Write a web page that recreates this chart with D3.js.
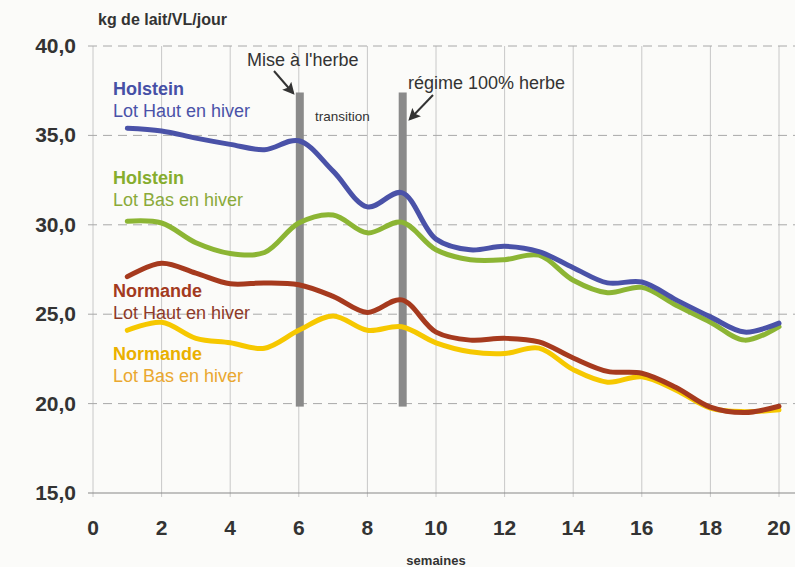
<!DOCTYPE html>
<html>
<head>
<meta charset="utf-8">
<script src="https://cdn.jsdelivr.net/npm/d3@7"></script>
<style>
    body { margin: 0; background: #fbfbf9; }
    svg { display: block; font-family: "Liberation Sans", Arial, sans-serif; }
</style>
</head>
<body>
<svg id="chart" width="795" height="567"></svg>
<script>
// data
var weeks = [1, 2, 3, 4, 5, 6, 7, 8, 9, 10, 11, 12, 13, 14, 15, 16, 17, 18, 19, 20];
var holstein_haut = [35.4, 35.25, 34.85, 34.5, 34.2, 34.7, 33.0, 31.0, 31.8, 29.2, 28.6, 28.8, 28.5, 27.6, 26.75, 26.8, 25.8, 24.85, 24.0, 24.5];
var holstein_bas  = [30.2, 30.1, 29.0, 28.4, 28.45, 30.1, 30.55, 29.55, 30.15, 28.6, 28.05, 28.05, 28.3, 26.9, 26.2, 26.5, 25.5, 24.55, 23.55, 24.3];
var normande_haut = [27.1, 27.85, 27.3, 26.7, 26.75, 26.65, 26.0, 25.1, 25.8, 24.0, 23.55, 23.65, 23.45, 22.55, 21.8, 21.7, 20.9, 19.8, 19.5, 19.85];
var normande_bas  = [24.1, 24.55, 23.65, 23.4, 23.1, 24.1, 24.9, 24.1, 24.3, 23.4, 22.9, 22.8, 23.1, 21.9, 21.2, 21.5, 20.75, 19.75, 19.55, 19.65];
var x_ticks = [0, 2, 4, 6, 8, 10, 12, 14, 16, 18, 20];
var y_ticks = [15, 20, 25, 30, 35, 40];
var series_names = ['Holstein', 'Holstein', 'Normande', 'Normande'];
var series_lots = ['Lot Haut en hiver', 'Lot Bas en hiver', 'Lot Haut en hiver', 'Lot Bas en hiver'];
var marker_weeks = [6, 9];

// styles
var line_colors = ['#4a52a8', '#8cb534', '#a63a1e', '#f6c800'];
var name_colors = ['#4650a6', '#86ad2e', '#a33a20', '#eab000'];
var lot_colors  = ['#4a52a8', '#8aaa3a', '#8e3a28', '#eaa830'];
// legend anchor (week, value) per series
var legend_pos = [[0.58, 37.25], [0.58, 32.3], [0.58, 25.95], [0.58, 22.45]];

var svg = d3.select('#chart');

// scales
var x = d3.scaleLinear().domain([0, 20]).range([93, 779]);
var y = d3.scaleLinear().domain([15, 40]).range([493, 46]);

// vertical grid
svg.append('g')
    .selectAll('line')
    .data(x_ticks)
    .enter().append('line')
    .attr('x1', function(d) { return x(d); })
    .attr('x2', function(d) { return x(d); })
    .attr('y1', y(40))
    .attr('y2', y(15) + 4)
    .attr('stroke', '#c8c8c8')
    .attr('stroke-width', 1);

// horizontal grid (dashed)
svg.append('g')
    .selectAll('line')
    .data(y_ticks.filter(function(d) { return d > 15; }))
    .enter().append('line')
    .attr('x1', x(0) - 5)
    .attr('x2', 795)
    .attr('y1', function(d) { return y(d); })
    .attr('y2', function(d) { return y(d); })
    .attr('stroke', '#a8a8a8')
    .attr('stroke-width', 1)
    .attr('stroke-dasharray', '9,6');

// x axis line
svg.append('line')
    .attr('x1', x(0) - 5)
    .attr('x2', 795)
    .attr('y1', y(15))
    .attr('y2', y(15))
    .attr('stroke', '#888')
    .attr('stroke-width', 1.2);

// y tick labels
svg.append('g')
    .selectAll('text')
    .data(y_ticks)
    .enter().append('text')
    .attr('x', 76)
    .attr('y', function(d) { return y(d) + 7; })
    .attr('text-anchor', 'end')
    .attr('font-size', 21)
    .attr('font-weight', 'bold')
    .attr('fill', '#333')
    .text(function(d) { return d3.format('.1f')(d).replace('.', ','); });

// x tick labels
svg.append('g')
    .selectAll('text')
    .data(x_ticks)
    .enter().append('text')
    .attr('x', function(d) { return x(d); })
    .attr('y', y(15) + 42)
    .attr('text-anchor', 'middle')
    .attr('font-size', 21)
    .attr('font-weight', 'bold')
    .attr('fill', '#333')
    .text(function(d) { return d; });

// axis titles
svg.append('text')
    .attr('x', 98)
    .attr('y', 25)
    .attr('font-size', 16)
    .attr('font-weight', 'bold')
    .attr('fill', '#333')
    .text('kg de lait/VL/jour');

svg.append('text')
    .attr('x', x(10))
    .attr('y', 565)
    .attr('text-anchor', 'middle')
    .attr('font-size', 13)
    .attr('font-weight', 'bold')
    .attr('fill', '#333')
    .text('semaines');

// marker bars
svg.append('g')
    .selectAll('rect')
    .data(marker_weeks)
    .enter().append('rect')
    .attr('x', function(d) { return x(d) - 3; })
    .attr('y', y(37.4))
    .attr('width', 8)
    .attr('height', y(20) - y(37.4) + 3)
    .attr('fill', '#8a8a8a');

// arrow head
svg.append('defs').append('marker')
    .attr('id', 'arrow')
    .attr('viewBox', '0 0 10 10')
    .attr('refX', 8)
    .attr('refY', 5)
    .attr('markerWidth', 6)
    .attr('markerHeight', 6)
    .attr('markerUnits', 'strokeWidth')
    .attr('orient', 'auto')
    .append('path')
    .attr('d', 'M0,0L10,5L0,10L2,5Z')
    .attr('fill', '#333');

// annotations
svg.append('text')
    .attr('x', 247)
    .attr('y', 66)
    .attr('font-size', 18)
    .attr('fill', '#333')
    .text("Mise à l'herbe");

svg.append('line')
    .attr('x1', 274).attr('y1', 71)
    .attr('x2', 293).attr('y2', 93)
    .attr('stroke', '#333').attr('stroke-width', 2)
    .attr('marker-end', 'url(#arrow)');

svg.append('text')
    .attr('x', 315)
    .attr('y', 121)
    .attr('font-size', 13.5)
    .attr('fill', '#333')
    .text('transition');

svg.append('text')
    .attr('x', 408)
    .attr('y', 89)
    .attr('font-size', 18)
    .attr('fill', '#333')
    .text('régime 100% herbe');

svg.append('line')
    .attr('x1', 433).attr('y1', 95)
    .attr('x2', 410).attr('y2', 119)
    .attr('stroke', '#333').attr('stroke-width', 2)
    .attr('marker-end', 'url(#arrow)');

// lines
var all_series = [holstein_haut, holstein_bas, normande_haut, normande_bas];
var line = d3.line()
    .curve(d3.curveCatmullRom.alpha(0.5))
    .x(function(d, i) { return x(weeks[i]); })
    .y(function(d) { return y(d); });

// draw in back-to-front order so yellow sits under red at the end
[1, 0, 3, 2].forEach(function(k) {
    svg.append('path')
        .datum(all_series[k])
        .attr('d', line)
        .attr('fill', 'none')
        .attr('stroke', line_colors[k])
        .attr('stroke-width', 5)
        .attr('stroke-linecap', 'round');
});

// series labels
all_series.forEach(function(s, k) {
    var g = svg.append('g')
        .attr('transform', 'translate(' + x(legend_pos[k][0]) + ',' + y(legend_pos[k][1]) + ')');
    g.append('text')
        .attr('font-size', 18)
        .attr('font-weight', 'bold')
        .attr('fill', name_colors[k])
        .text(series_names[k]);
    g.append('text')
        .attr('y', 22)
        .attr('font-size', 18)
        .attr('fill', lot_colors[k])
        .text(series_lots[k]);
});
</script>
</body>
</html>
